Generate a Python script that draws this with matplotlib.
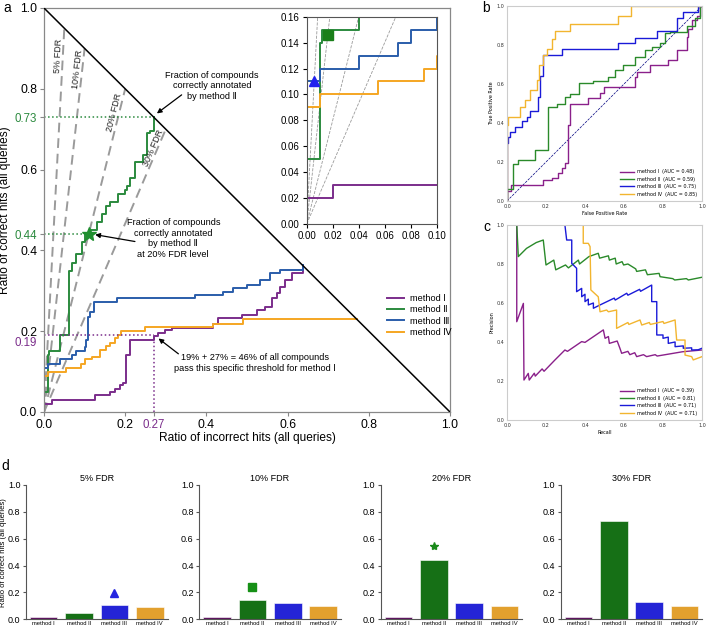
import numpy as np
import matplotlib.pyplot as plt
from matplotlib import transforms

plt.rcParams['font.family'] = ['Liberation Sans', 'DejaVu Sans']

W, H = 706, 628

methods = ['method Ⅰ', 'method Ⅱ', 'method Ⅲ', 'method Ⅳ']
methods_plain = ['method I', 'method II', 'method III', 'method IV']

# panel a: ratio of incorrect hits (x) vs ratio of correct hits (y), step corners
inc_1 = [0, 0, 0.02, 0.126, 0.163, 0.175, 0.187, 0.195, 0.202, 0.212, 0.27, 0.282, 0.298,
         0.315, 0.417, 0.429, 0.487, 0.524, 0.545, 0.561, 0.573, 0.581, 0.593, 0.610, 0.639]
cor_1 = [0, 0.02, 0.03, 0.042, 0.05, 0.058, 0.067, 0.071, 0.141, 0.178, 0.188, 0.195, 0.203,
         0.209, 0.219, 0.232, 0.240, 0.252, 0.261, 0.281, 0.294, 0.31, 0.327, 0.343, 0.364]
inc_2 = [0, 0, 0.010, 0.012, 0.040, 0.062, 0.070, 0.080, 0.093, 0.101, 0.113, 0.130, 0.142,
         0.153, 0.163, 0.183, 0.200, 0.204, 0.212, 0.224, 0.245, 0.253, 0.261, 0.272]
cor_2 = [0, 0.05, 0.14, 0.15, 0.19, 0.35, 0.37, 0.39, 0.42, 0.44, 0.45, 0.47, 0.49,
         0.51, 0.52, 0.54, 0.55, 0.56, 0.58, 0.62, 0.635, 0.69, 0.695, 0.73]
inc_3 = [0, 0, 0.01, 0.04, 0.07, 0.08, 0.10, 0.103, 0.109, 0.113, 0.124, 0.179, 0.372,
         0.44, 0.466, 0.501, 0.532, 0.557, 0.581, 0.639]
cor_3 = [0, 0.11, 0.12, 0.13, 0.14, 0.15, 0.16, 0.178, 0.236, 0.248, 0.273, 0.281, 0.29,
         0.298, 0.306, 0.314, 0.327, 0.343, 0.351, 0.364]
inc_4 = [0, 0, 0.01, 0.055, 0.09, 0.10, 0.118, 0.138, 0.153, 0.163, 0.175, 0.183, 0.189,
         0.249, 0.417, 0.491, 0.77]
cor_4 = [0, 0.09, 0.10, 0.11, 0.12, 0.13, 0.137, 0.153, 0.163, 0.172, 0.182, 0.19, 0.201,
         0.21, 0.219, 0.23, 0.23]

fdr_levels = [0.05, 0.10, 0.20, 0.30]
fdr_names = ['5% FDR', '10% FDR', '20% FDR', '30% FDR']
fdr_label_y = [0.88, 0.847, 0.74, 0.65]

# highlighted operating points
pt_5 = (0.0058, 0.11)     # method III at 5% FDR
pt_10 = (0.0165, 0.146)   # method II at 10% FDR
pt_20 = (0.11, 0.44)      # method II at 20% FDR
pt_30 = (0.27, 0.73)      # method II at 30% FDR
pt_m1 = (0.27, 0.19)      # method I threshold

# panel b: ROC (step corners)
fpr_1 = [0, 0, 0.02, 0.186, 0.23, 0.263, 0.28, 0.297, 0.311, 0.323, 0.417, 0.477, 0.499,
         0.656, 0.665, 0.733, 0.827, 0.87, 0.921, 0.93, 0.947, 0.972, 0.99, 1.0]
tpr_1 = [0, 0.053, 0.082, 0.108, 0.116, 0.142, 0.168, 0.193, 0.39, 0.50, 0.527, 0.552, 0.583,
         0.637, 0.663, 0.697, 0.723, 0.774, 0.843, 0.88, 0.93, 0.95, 1.0, 1.0]
fpr_2 = [0, 0, 0.03, 0.058, 0.144, 0.212, 0.255, 0.297, 0.323, 0.369, 0.443, 0.52, 0.554,
         0.597, 0.656, 0.708, 0.742, 0.785, 0.81, 0.836, 0.921, 0.964, 0.99, 1.0]
tpr_2 = [0, 0.06, 0.19, 0.21, 0.26, 0.48, 0.50, 0.535, 0.547, 0.603, 0.615, 0.637, 0.672,
         0.697, 0.74, 0.774, 0.791, 0.809, 0.86, 0.868, 0.90, 0.937, 1.0, 1.0]
fpr_3 = [0, 0, 0.007, 0.015, 0.041, 0.075, 0.101, 0.118, 0.161, 0.169, 0.186, 0.28, 0.571,
         0.656, 0.768, 0.87, 0.904, 0.981, 1.0]
tpr_3 = [0, 0.30, 0.33, 0.355, 0.38, 0.41, 0.43, 0.46, 0.535, 0.64, 0.75, 0.78, 0.81,
         0.835, 0.87, 0.94, 0.97, 1.0, 1.0]
fpr_4 = [0, 0, 0.007, 0.067, 0.092, 0.118, 0.152, 0.166, 0.186, 0.203, 0.229, 0.246, 0.323,
         0.571, 0.636, 1.0]
tpr_4 = [0, 0.39, 0.43, 0.48, 0.52, 0.57, 0.62, 0.70, 0.75, 0.78, 0.83, 0.87, 0.91,
         0.95, 1.0, 1.0]
roc_auc = [0.48, 0.59, 0.75, 0.85]

# panel c: precision-recall
rec_1 = [0.0, 0.05, 0.05, 0.084, 0.087, 0.109, 0.114, 0.14, 0.145, 0.18, 0.19, 0.246, 0.297,
         0.31, 0.383, 0.40, 0.494, 0.503, 0.52, 0.525, 0.565, 0.579, 0.588, 0.62, 0.63, 0.655,
         0.665, 0.70, 0.716, 0.76, 0.77, 0.853, 0.90, 1.0]
prec_1 = [1.0, 1.0, 0.504, 0.598, 0.205, 0.239, 0.205, 0.24, 0.225, 0.262, 0.25, 0.308, 0.359,
          0.352, 0.402, 0.398, 0.462, 0.419, 0.428, 0.393, 0.405, 0.368, 0.342, 0.352, 0.335,
          0.345, 0.325, 0.335, 0.325, 0.335, 0.328, 0.342, 0.35, 0.359]
rec_2 = [0.0, 0.05, 0.058, 0.10, 0.15, 0.186, 0.20, 0.24, 0.25, 0.30, 0.315, 0.366, 0.372,
         0.42, 0.468, 0.475, 0.52, 0.525, 0.555, 0.56, 0.59, 0.598, 0.62, 0.66, 0.665, 0.71,
         0.72, 0.78, 0.785, 0.85, 0.86, 0.92, 0.93, 1.0]
prec_2 = [1.0, 1.0, 0.838, 0.88, 0.91, 0.923, 0.795, 0.82, 0.77, 0.795, 0.78, 0.82, 0.80,
          0.838, 0.855, 0.83, 0.842, 0.82, 0.83, 0.80, 0.812, 0.795, 0.80, 0.775, 0.762, 0.77,
          0.745, 0.752, 0.735, 0.725, 0.718, 0.725, 0.718, 0.732]
rec_3 = [0.0, 0.297, 0.306, 0.332, 0.332, 0.357, 0.357, 0.383, 0.383, 0.40, 0.40, 0.417, 0.417,
         0.443, 0.443, 0.477, 0.55, 0.555, 0.614, 0.62, 0.68, 0.685, 0.742, 0.742, 0.768, 0.768,
         0.80, 0.80, 0.827, 0.827, 0.862, 0.862, 0.904, 0.904, 0.947, 0.947, 0.98, 1.0]
prec_3 = [1.0, 1.0, 0.923, 0.923, 0.803, 0.778, 0.658, 0.675, 0.632, 0.645, 0.607, 0.62, 0.59,
          0.60, 0.573, 0.59, 0.625, 0.615, 0.65, 0.64, 0.67, 0.66, 0.692, 0.607, 0.607, 0.436,
          0.436, 0.419, 0.425, 0.393, 0.40, 0.376, 0.38, 0.368, 0.37, 0.359, 0.36, 0.368]
rec_4 = [0.0, 0.391, 0.391, 0.417, 0.426, 0.43, 0.468, 0.477, 0.511, 0.52, 0.562, 0.562, 0.62,
         0.625, 0.682, 0.691, 0.73, 0.735, 0.80, 0.805, 0.862, 0.87, 0.913, 0.913, 0.947, 0.955, 1.0]
prec_4 = [1.0, 1.0, 0.906, 0.906, 0.889, 0.667, 0.632, 0.555, 0.564, 0.555, 0.564, 0.47, 0.50,
          0.49, 0.513, 0.487, 0.50, 0.49, 0.505, 0.495, 0.513, 0.41, 0.41, 0.333, 0.325, 0.308, 0.325]
pr_auc = [0.39, 0.81, 0.71, 0.71]

# panel d: ratio of correct hits at each FDR level
bars_fdr = [
    [0.02, 0.05, 0.11, 0.09],
    [0.02, 0.14, 0.12, 0.10],
    [0.02, 0.44, 0.12, 0.10],
    [0.02, 0.73, 0.13, 0.10],
]
mark_idx = [2, 1, 1, None]
mark_h = [0.195, 0.24, 0.547, None]

col_a = ['#7b2d8b', '#2b8a3e', '#2a5daa', '#f5a623']
col_bc = ['#8a208a', '#2a8a2a', '#1a1ad8', '#f2b52f']
col_d = ['#5e1360', '#167016', '#2424d6', '#e2a02e']
mark_style = ['^', 's', '*', None]
mark_col = ['#2525e0', '#169016', '#1a8a1a', None]

inc = [inc_1, inc_2, inc_3, inc_4]
cor = [cor_1, cor_2, cor_3, cor_4]
fprs = [fpr_1, fpr_2, fpr_3, fpr_4]
tprs = [tpr_1, tpr_2, tpr_3, tpr_4]
recs = [rec_1, rec_2, rec_3, rec_4]
precs = [prec_1, prec_2, prec_3, prec_4]


def px_axes(x0, y0, x1, y1):
    return [x0 / W, 1 - y1 / H, (x1 - x0) / W, (y1 - y0) / H]


fig = plt.figure(figsize=(W / 100, H / 100), dpi=100)

# ---------------- panel a ----------------
ax = fig.add_axes(px_axes(44, 8, 450, 412))
ax.set_xlim(0, 1)
ax.set_ylim(0, 1)
for s in ax.spines.values():
    s.set_color('#888888')
    s.set_linewidth(0.9)
ax.plot([0, 1], [1, 0], color='black', lw=1.1, zorder=3)
for f, name, ly in zip(fdr_levels, fdr_names, fdr_label_y):
    ax.plot([0, f], [0, 1 - f], ls=(0, (5, 3)), color='#9a9a9a', lw=1.4, zorder=1)
    ang = np.degrees(np.arctan((1 - f) / f * 404 / 406))
    ax.text(ly * f / (1 - f), ly, name, rotation=ang, rotation_mode='anchor',
            ha='center', va='bottom', fontsize=6.5, color='#222222')
for x, y, c, lab in zip(inc, cor, col_a, methods):
    ax.step(x, y, where='post', color=c, lw=1.4, label=lab, zorder=2)

green, purple = col_a[1], col_a[0]
ax.plot([0, pt_30[0]], [pt_30[1]] * 2, ':', color=green, lw=1.1)
ax.plot([0, pt_20[0]], [pt_20[1]] * 2, ':', color=green, lw=1.1)
ax.plot([0, pt_m1[0]], [pt_m1[1]] * 2, ':', color=purple, lw=1.1)
ax.plot([pt_m1[0]] * 2, [0, pt_m1[1]], ':', color=purple, lw=1.1)
ax.plot(*pt_20, marker='*', ms=10, color='#1f8f2f', zorder=5)

yt = [0, 0.2, 0.4, 0.44, 0.6, 0.73, 0.8, 1.0]
ax.set_yticks(yt)
ax.set_yticklabels(['0.0', '0.2', '0.4', '0.44', '0.6', '0.73', '0.8', '1.0'])
xt = [0, 0.2, 0.27, 0.4, 0.6, 0.8, 1.0]
ax.set_xticks(xt)
ax.set_xticklabels(['0.0', '0.2', '0.27', '0.4', '0.6', '0.8', '1.0'])
ax.tick_params(labelsize=8.8, length=3, color='#888888', pad=2)
for lab, v in zip(ax.get_yticklabels(), yt):
    if v in (0.44, 0.73):
        lab.set_color(green)
        lab.set_fontsize(8.3)
for lab, v in zip(ax.get_xticklabels(), xt):
    if v == 0.27:
        lab.set_color(purple)
        lab.set_fontsize(8.3)
# 0.19 label sits just under the 0.2 tick label
trans_019 = transforms.offset_copy(
    transforms.blended_transform_factory(ax.transAxes, ax.transData), fig=fig, x=-5, y=-1.5,
    units='points')
ax.text(0, pt_m1[1], '0.19', transform=trans_019, ha='right', va='top', fontsize=8.3,
        color=purple)
ax.set_xlabel('Ratio of incorrect hits (all queries)', fontsize=8.6, labelpad=1)
ax.set_ylabel('Ratio of correct hits (all queries)', fontsize=8.6)
ax.yaxis.set_label_coords(-0.082, 0.5)

ann = dict(fontsize=6.6, ha='center', va='center', linespacing=1.25)
arr = dict(arrowstyle='-|>', color='black', lw=0.9, mutation_scale=7, shrinkA=0, shrinkB=0)
ax.text(0.414, 0.807, 'Fraction of compounds\ncorrectly annotated\nby method Ⅱ', **ann)
ax.annotate('', xy=(0.278, 0.739), xytext=(0.339, 0.785), arrowprops=arr)
ax.text(0.3185, 0.4295, 'Fraction of compounds\ncorrectly annotated\nby method Ⅱ\nat 20% FDR level', **ann)
ax.annotate('', xy=(0.126, 0.439), xytext=(0.224, 0.422), arrowprops=arr)
ax.text(0.5185, 0.1205, '19% + 27% = 46% of all compounds\npass this specific threshold for method Ⅰ', **ann)
ax.annotate('', xy=(0.282, 0.182), xytext=(0.331, 0.144), arrowprops=arr)

ax.legend(loc='upper left', bbox_to_anchor=(0.845, 0.292), frameon=False, fontsize=6.6,
          handlelength=1.9, handletextpad=0.6, labelspacing=0.25, borderpad=0, borderaxespad=0)

# inset
axi = fig.add_axes(px_axes(306.7, 16.7, 436.7, 224))
axi.set_xlim(0, 0.1)
axi.set_ylim(0, 0.16)
for f in fdr_levels:
    axi.plot([0, f], [0, 1 - f], ls='--', color='#9a9a9a', lw=0.6, zorder=1)
for x, y, c in zip(inc, cor, col_a):
    axi.step(x, y, where='post', color=c, lw=1.4, zorder=2)
axi.plot(*pt_5, marker='^', ms=7, color='#2222ee', zorder=5, clip_on=False)
axi.plot(*pt_10, marker='s', ms=7, color='#1a7f1a', zorder=5)
axi.set_xticks(np.arange(0, 0.101, 0.02))
axi.set_yticks(np.arange(0, 0.161, 0.02))
axi.xaxis.set_major_formatter('{x:.2f}')
axi.yaxis.set_major_formatter('{x:.2f}')
axi.tick_params(labelsize=7, length=3, pad=2)
for s in axi.spines.values():
    s.set_color('#555555')
    s.set_linewidth(0.8)

# ---------------- panels b and c ----------------
def small_axes(a):
    a.set_xlim(0, 1)
    a.set_ylim(0, 1)
    a.set_xticks(np.arange(0, 1.01, 0.2))
    a.set_yticks(np.arange(0, 1.01, 0.2))
    a.xaxis.set_major_formatter('{x:.1f}')
    a.yaxis.set_major_formatter('{x:.1f}')
    a.tick_params(labelsize=3.5, length=0, pad=2, labelcolor='#333333')
    for lab in a.get_xticklabels() + a.get_yticklabels():
        lab.set_family('DejaVu Sans')
    for s in a.spines.values():
        s.set_color('#cccccc')
        s.set_linewidth(0.8)


axb = fig.add_axes(px_axes(507, 6, 702, 201))
small_axes(axb)
axb.plot([0, 1], [0, 1], ls='--', color='navy', lw=0.5)
for x, y, c, lab, auc in zip(fprs, tprs, col_bc, methods, roc_auc):
    axb.step(x, y, where='post', color=c, lw=1.0, label=f'{lab}  (AUC = {auc:.2f})')
axb.set_xlabel('False Positive Rate', fontsize=3.5, family='DejaVu Sans', labelpad=1.5)
axb.set_ylabel('True Positive Rate', fontsize=3.5, family='DejaVu Sans', labelpad=1.5)
axb.legend(loc='lower right', frameon=False, prop={'family': 'DejaVu Sans', 'size': 3.5},
           handlelength=2.8, labelspacing=0.5)

axc = fig.add_axes(px_axes(507, 225, 702, 420))
small_axes(axc)
for x, y, c, lab, auc in zip(recs, precs, col_bc, methods, pr_auc):
    axc.plot(x, y, color=c, lw=1.0, label=f'{lab}  (AUC = {auc:.2f})')
axc.set_xlabel('Recall', fontsize=3.5, family='DejaVu Sans', labelpad=1.5)
axc.set_ylabel('Precision', fontsize=3.5, family='DejaVu Sans', labelpad=1.5)
axc.legend(loc='lower right', frameon=False, prop={'family': 'DejaVu Sans', 'size': 3.5},
           handlelength=2.8, labelspacing=0.5)

# ---------------- panel d ----------------
d_left = [26, 199.3, 380.7, 560.7]
for i in range(4):
    a = fig.add_axes(px_axes(d_left[i], 485, d_left[i] + 141.5, 619.3))
    pos = np.arange(4)
    a.bar(pos, bars_fdr[i], width=0.78, color=col_d, edgecolor='white', linewidth=0.4)
    if mark_idx[i] is not None:
        a.plot(mark_idx[i], mark_h[i], marker=mark_style[i], ms=6, color=mark_col[i], ls='none')
    a.set_xlim(-0.5, 3.5)
    a.set_ylim(0, 1)
    a.set_yticks(np.arange(0, 1.01, 0.2))
    a.yaxis.set_major_formatter('{x:.1f}')
    a.set_xticks(pos)
    a.set_xticklabels(methods_plain, fontsize=4.2)
    a.tick_params(axis='y', labelsize=6.5, length=2.5, pad=1.5, color='#555555')
    a.tick_params(axis='x', length=0, pad=1.5)
    for s in ['top', 'right']:
        a.spines[s].set_visible(False)
    for s in ['left', 'bottom']:
        a.spines[s].set_color('#555555')
        a.spines[s].set_linewidth(0.8)
    a.set_title(fdr_names[i], fontsize=6.5, pad=3)
    if i == 0:
        a.set_ylabel('Ratio of correct hits (all queries)', fontsize=5.5)
        a.yaxis.set_label_coords(-0.135, 0.5)

fig.text(3 / W, 1 - 1 / H, 'a', fontsize=10, va='top')
fig.text(482 / W, 1 - 1 / H, 'b', fontsize=10, va='top')
fig.text(483 / W, 1 - 220 / H, 'c', fontsize=10, va='top')
fig.text(1 / W, 1 - 459 / H, 'd', fontsize=10, va='top')

fig.savefig('out.png', dpi=100)
